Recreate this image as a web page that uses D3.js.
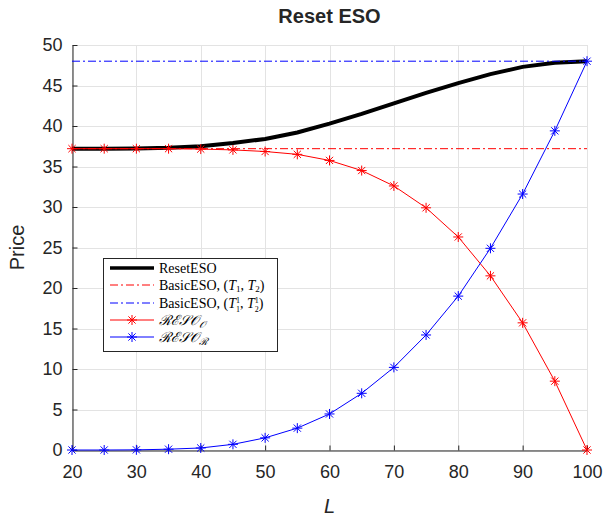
<!DOCTYPE html>
<html>
<head>
<meta charset="utf-8">
<title>Reset ESO</title>
<script src="https://d3js.org/d3.v7.min.js"></script>
<style>
  body { margin: 0; background: #fff; }
  text { font-family: "Liberation Sans", Arial, sans-serif; fill: #262626; }
  .leg text { font-family: "Liberation Serif", "DejaVu Serif", serif; fill: #000; }
</style>
</head>
<body>
<script>
// strike levels L
var levels = [20, 25, 30, 35, 40, 45, 50, 55, 60, 65, 70, 75, 80, 85, 90, 95, 100];
var resetESO = [37.2, 37.2, 37.22, 37.3, 37.5, 37.9, 38.4, 39.2, 40.3, 41.5, 42.8, 44.1, 45.3, 46.4, 47.3, 47.8, 48.0];
var resoO = [37.2, 37.2, 37.2, 37.2, 37.15, 37.05, 36.85, 36.5, 35.75, 34.5, 32.6, 29.9, 26.3, 21.5, 15.7, 8.5, 0];
var resoR = [0, 0, 0.02, 0.1, 0.25, 0.7, 1.5, 2.7, 4.45, 7.0, 10.2, 14.2, 19.0, 24.9, 31.6, 39.4, 48.0];
var basicT = 37.2;   // BasicESO, (T1,T2)
var basicT1 = 48.0;  // BasicESO, (T1^1,T2^1)
var xTicks = [20, 30, 40, 50, 60, 70, 80, 90, 100];
var yTicks = [0, 5, 10, 15, 20, 25, 30, 35, 40, 45, 50];

var W = 605, H = 519;
var m = {left: 72, right: 18, top: 45, bottom: 69};

var svg = d3.select("body").append("svg")
    .attr("width", W)
    .attr("height", H);

var x = d3.scaleLinear().domain([20, 100]).range([m.left, W - m.right]);
var y = d3.scaleLinear().domain([0, 50]).range([H - m.bottom, m.top]);

// grid
var grid = svg.append("g").attr("stroke", "#e3e3e3").attr("stroke-width", 1);
grid.selectAll(".gx").data(xTicks).enter().append("line")
    .attr("x1", function(d) { return Math.round(x(d)) + 0.5; })
    .attr("x2", function(d) { return Math.round(x(d)) + 0.5; })
    .attr("y1", y(0)).attr("y2", y(50));
grid.selectAll(".gy").data(yTicks).enter().append("line")
    .attr("y1", function(d) { return Math.round(y(d)) + 0.5; })
    .attr("y2", function(d) { return Math.round(y(d)) + 0.5; })
    .attr("x1", x(20)).attr("x2", x(100));

// axes (ticks inside)
var xAxis = svg.append("g")
    .attr("transform", "translate(0," + (Math.round(y(0)) + 0.5) + ")")
    .call(d3.axisBottom(x).tickValues(xTicks).tickSizeInner(-5).tickSizeOuter(0).tickPadding(12));
var yAxis = svg.append("g")
    .attr("transform", "translate(" + (Math.round(x(20)) + 0.5) + ",0)")
    .call(d3.axisLeft(y).tickValues(yTicks).tickSizeInner(-5).tickSizeOuter(0).tickPadding(10));
[xAxis, yAxis].forEach(function(a) {
    a.selectAll("path, line").attr("stroke", "#262626");
    a.selectAll("text").attr("font-size", 18).attr("fill", "#262626")
        .attr("font-family", "'Liberation Sans', Arial, sans-serif");
});
xAxis.selectAll("text").attr("dy", "0.85em");

// curves
var line = d3.line()
    .x(function(d) { return x(d[0]); })
    .y(function(d) { return y(d[1]); });

function pairs(vals) {
    return levels.map(function(l, i) { return [l, vals[i]]; });
}

svg.append("path").datum(pairs(resetESO))
    .attr("d", line).attr("fill", "none")
    .attr("stroke", "#000").attr("stroke-width", 4);

svg.append("path").datum([[20, basicT], [100, basicT]])
    .attr("d", line).attr("fill", "none")
    .attr("stroke", "#ff0000").attr("stroke-width", 1).attr("stroke-dasharray", "8,3,2,3");

svg.append("path").datum([[20, basicT1], [100, basicT1]])
    .attr("d", line).attr("fill", "none")
    .attr("stroke", "#0000ff").attr("stroke-width", 1).attr("stroke-dasharray", "8,3,2,3");

// asterisk marker
function star(g, cx, cy, r, col) {
    var s = g.append("g").attr("transform", "translate(" + cx + "," + cy + ")")
        .attr("stroke", col).attr("stroke-width", 1);
    s.append("line").attr("x1", -r).attr("x2", r).attr("y1", 0).attr("y2", 0);
    s.append("line").attr("x1", 0).attr("x2", 0).attr("y1", -r).attr("y2", r);
    var k = r * 0.72;
    s.append("line").attr("x1", -k).attr("x2", k).attr("y1", -k).attr("y2", k);
    s.append("line").attr("x1", -k).attr("x2", k).attr("y1", k).attr("y2", -k);
}

function series(vals, col) {
    svg.append("path").datum(pairs(vals))
        .attr("d", line).attr("fill", "none")
        .attr("stroke", col).attr("stroke-width", 1);
    var g = svg.append("g");
    pairs(vals).forEach(function(p) { star(g, x(p[0]), y(p[1]), 5, col); });
}
series(resoO, "#ff0000");
series(resoR, "#0000ff");

// title and labels
svg.append("text").attr("x", (x(20) + x(100)) / 2).attr("y", 23)
    .attr("text-anchor", "middle").attr("font-size", 20).attr("font-weight", "bold")
    .attr("fill", "#000").text("Reset ESO");

svg.append("text").attr("transform", "translate(24," + ((y(0) + y(50)) / 2) + ") rotate(-90)")
    .attr("text-anchor", "middle").attr("font-size", 20).text("Price");

svg.append("text").attr("x", (x(20) + x(100)) / 2).attr("y", 513)
    .attr("text-anchor", "middle").attr("font-size", 20).attr("font-style", "italic").text("L");

// legend
var leg = svg.append("g").attr("class", "leg");
leg.append("rect").attr("x", 103.5).attr("y", 258.5).attr("width", 174).attr("height", 93)
    .attr("fill", "#fff").attr("stroke", "#262626").attr("stroke-width", 1);

var items = [
    {col: "#000", w: 3.5, dash: null, mark: false},
    {col: "#ff0000", w: 1, dash: "8,3,2,3", mark: false},
    {col: "#0000ff", w: 1, dash: "8,3,2,3", mark: false},
    {col: "#ff0000", w: 1, dash: null, mark: true},
    {col: "#0000ff", w: 1, dash: null, mark: true}
];
var rowY = [268, 285, 303, 320, 337];
items.forEach(function(it, i) {
    var yy = rowY[i];
    leg.append("line").attr("x1", 110).attr("x2", 154).attr("y1", yy).attr("y2", yy)
        .attr("stroke", it.col).attr("stroke-width", it.w).attr("stroke-dasharray", it.dash);
    if (it.mark) star(leg, 132, yy, 5, it.col);
});

var tx = 159, fs = 14;
// write a run of legend text pieces left to right; each piece is its own text element
function run(i, pieces) {
    var cx = tx, base = rowY[i] + 5;
    pieces.forEach(function(p) {
        var t = leg.append("text").attr("x", cx).attr("y", base + (p.dy || 0))
            .attr("font-size", p.fs || fs).text(p.s);
        if (p.it) t.attr("font-style", "italic");
        var w = t.node().getComputedTextLength();
        if (!p.stack) cx += w;
    });
}
var nb = "\u00A0";
run(0, [{s: "ResetESO"}]);
run(1, [{s: "BasicESO," + nb + "("}, {s: "T", it: true}, {s: "1", fs: 9, dy: 2},
        {s: "," + nb}, {s: "T", it: true}, {s: "2", fs: 9, dy: 2}, {s: ")"}]);
run(2, [{s: "BasicESO," + nb + "("}, {s: "T", it: true}, {s: "1", fs: 8, dy: -5, stack: true}, {s: "1", fs: 8, dy: 4},
        {s: "," + nb}, {s: "T", it: true}, {s: "1", fs: 8, dy: -5, stack: true}, {s: "2", fs: 8, dy: 4}, {s: ")"}]);
var reso = "\u211B\u2130\uD835\uDCAE\uD835\uDCAA";
run(3, [{s: reso, it: true}, {s: "\uD835\uDCAA", fs: 10, dy: 3, it: true}]);
run(4, [{s: reso, it: true}, {s: "\u211B", fs: 10, dy: 3, it: true}]);
</script>
</body>
</html>
